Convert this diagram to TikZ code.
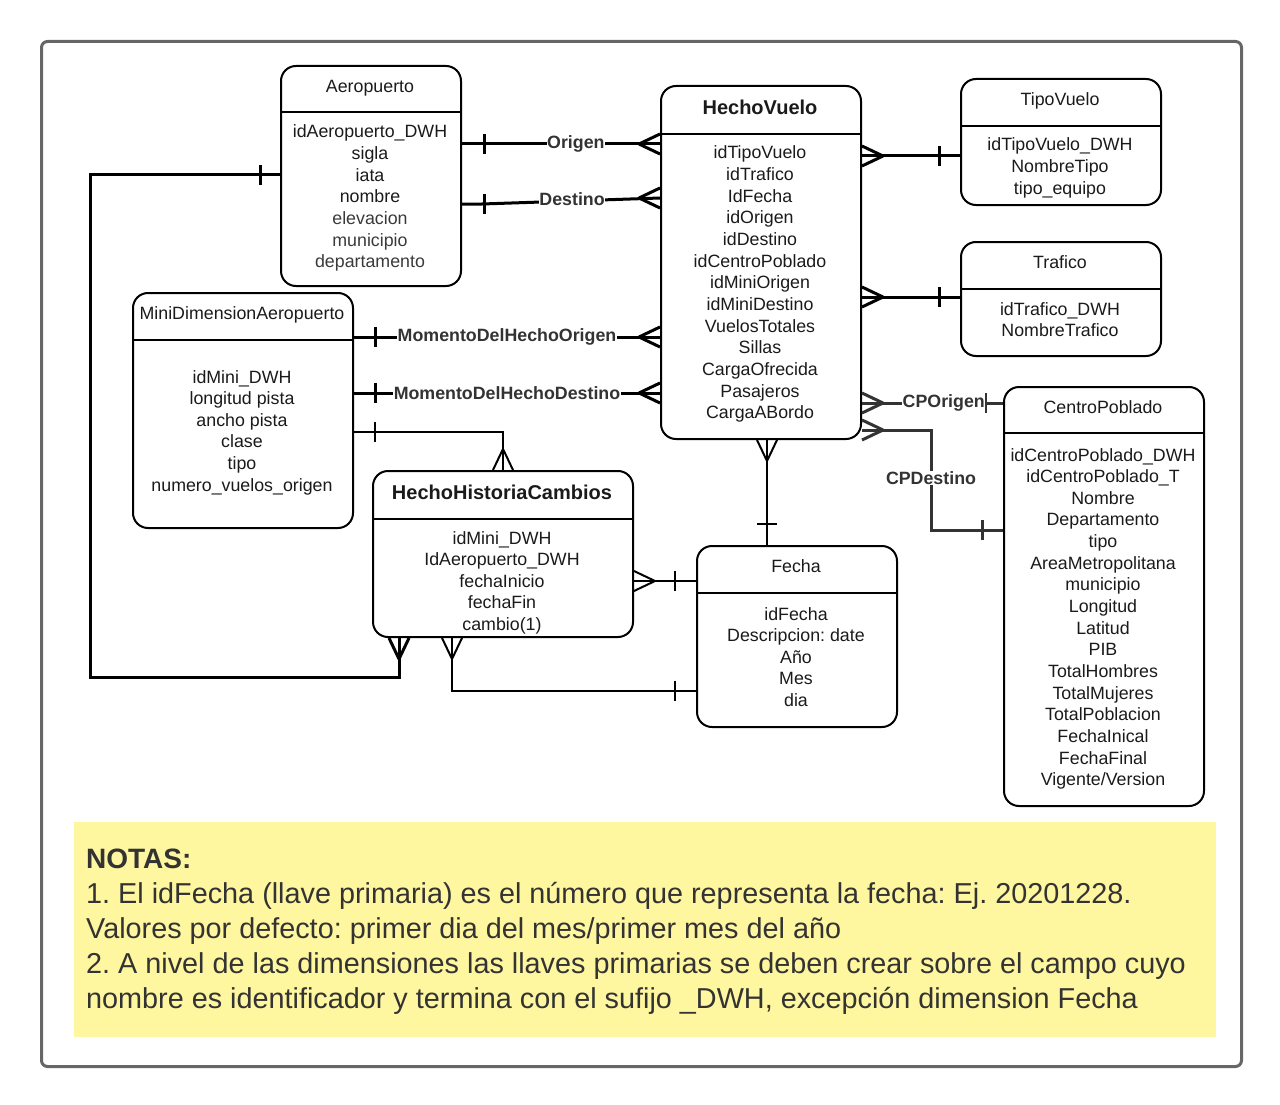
\documentclass[tikz,border=0pt]{standalone}
\usepackage{fontspec}
\setmainfont{Liberation Sans}
\usetikzlibrary{calc}
\frenchspacing
\definecolor{txt}{HTML}{1A1A1A}
\definecolor{txtg}{HTML}{3A3A3A}
\definecolor{lbl}{HTML}{333333}
\definecolor{framec}{HTML}{666666}
\definecolor{notec}{RGB}{255,246,160}
\tikzset{
  ent/.style={draw=black, line width=2pt, rounded corners=15pt, inner sep=0pt, anchor=north west},
  attr/.style={font=\fontsize{17.8}{21}\selectfont, text=txt, anchor=base, inner sep=0pt},
  ttl/.style={font=\fontsize{17.8}{21}\selectfont, text=txt, anchor=base, inner sep=0pt},
  bttl/.style={font=\bfseries\fontsize{20}{24}\selectfont, text=txt, anchor=base, inner sep=0pt},
  lab/.style={font=\bfseries\fontsize{17.8}{21}\selectfont, text=lbl, fill=white, inner sep=0.5pt},
  conn/.style={draw=black, line width=3pt},
  lw2/.style={line width=2pt},
  notetxt/.style={font=\fontsize{28.8}{35}\selectfont, text=lbl, anchor=base west, inner sep=0pt},
}
\newcommand{\entity}[8]{%
  \node[ent, minimum width=#4pt, minimum height=#5pt] (#1) at (#2,#3) {};
  \draw[line width=2pt] (#1.west |- 0,#6) -- (#1.east |- 0,#6);
}
\newcommand{\attrlist}[4]{%
  \foreach \t [count=\i] in {#4} {\node[attr] (#1-\i) at (#2,{#3+6+(\i-1)*21.65}) {\t};}
}
\newcommand{\crowft}[3][]{\draw[conn,#1,shift={(#2)},rotate=#3] (21,0) -- (0,10) (21,0) -- (0,-10);}
\newcommand{\onebar}[4][]{\draw[conn,#1,shift={(#2)},rotate=#3] (#4,-10) -- (#4,10);}
\begin{document}
\begin{tikzpicture}[x=1pt,y=-1pt]
\useasboundingbox (0,0) rectangle (1280,1105);
\node[draw=framec, line width=3pt, rounded corners=6pt, minimum width=1200pt, minimum height=1025pt, anchor=north west, inner sep=0pt] (frame) at (40,40) {};

% entities: name, x1, y1, width, height, header y
\entity{aero}{280}{65}{180}{220}{112}{}{}
\node[ttl] (aeroT) at (370,93) {Aeropuerto};
\attrlist{aero}{370}{132}{idAeropuerto\_DWH,sigla,iata,nombre,{\color{txtg}elevacion},{\color{txtg}municipio},{\color{txtg}departamento}}

\entity{hv}{660}{85}{200}{353}{134}{}{}
\node[bttl] (hvT) at (760,115) {HechoVuelo};
\attrlist{hv}{760}{153}{idTipoVuelo,idTrafico,IdFecha,idOrigen,idDestino,idCentroPoblado,idMiniOrigen,idMiniDestino,VuelosTotales,Sillas,CargaOfrecida,Pasajeros,CargaABordo}

\entity{tv}{960}{78}{200}{126}{126}{}{}
\node[ttl] (tvT) at (1060,106) {TipoVuelo};
\attrlist{tv}{1060}{145}{idTipoVuelo\_DWH,NombreTipo,tipo\_equipo}

\entity{tr}{960}{241}{200}{114}{289}{}{}
\node[ttl] (trT) at (1060,268) {Trafico};
\attrlist{tr}{1060}{309}{idTrafico\_DWH,NombreTrafico}

\entity{cp}{1003}{386}{200}{419}{433}{}{}
\node[ttl] (cpT) at (1103,413) {CentroPoblado};
\attrlist{cp}{1103}{455}{idCentroPoblado\_DWH,idCentroPoblado\_T,Nombre,Departamento,tipo,AreaMetropolitana,municipio,Longitud,Latitud,PIB,TotalHombres,TotalMujeres,TotalPoblacion,FechaInical,FechaFinal,Vigente/Version}

\entity{mini}{132}{292}{220}{235}{340}{}{}
\node[ttl] (miniT) at (242,319) {MiniDimensionAeropuerto};
\attrlist{mini}{242}{377}{idMini\_DWH,longitud pista,ancho pista,clase,tipo,numero\_vuelos\_origen}

\entity{hhc}{372}{470}{260}{166}{519}{}{}
\node[bttl] (hhcT) at (502,499) {HechoHistoriaCambios};
\attrlist{hhc}{502}{538}{idMini\_DWH,IdAeropuerto\_DWH,fechaInicio,fechaFin,cambio(1)}

\entity{fecha}{696}{545}{200}{181}{593}{}{}
\node[ttl] (fechaT) at (796,572) {Fecha};
\attrlist{fecha}{796}{614}{idFecha,Descripcion: date,Año,Mes,dia}

% connectors
\draw[conn] (aero.east |- 0,144) -- node[lab,pos=0.575]{Origen} (hv.west |- 0,144);
\onebar{aero.east |- 0,144}{0}{22}
\crowft{hv.west |- 0,144}{180}

\draw[conn] (aero.east |- 0,204) -- (482,204) -- node[lab,pos=0.506,yshift=2pt]{Destino} (hv.west |- 0,198);
\onebar{aero.east |- 0,204}{0}{22}
\crowft{hv.west |- 0,198}{180}

\draw[conn] (mini.east |- 0,337) -- node[lab,pos=0.5]{MomentoDelHechoOrigen} (hv.west |- 0,337);
\onebar{mini.east |- 0,337}{0}{21}
\crowft{hv.west |- 0,337}{180}

\draw[conn] (mini.east |- 0,393) -- node[lab,pos=0.5]{MomentoDelHechoDestino} (hv.west |- 0,393);
\onebar{mini.east |- 0,393}{0}{21}
\crowft{hv.west |- 0,393}{180}

\draw[conn,lw2] (mini.east |- 0,432) -| (hhc.north);
\onebar[lw2]{mini.east |- 0,432}{0}{21}
\crowft[lw2]{hhc.north}{90}

\draw[conn] (aero.west |- 0,175) -| (90,677) -| (hhc.south -| 399,0);
\onebar{aero.west |- 0,175}{180}{20}
\crowft{hhc.south -| 399,0}{270}

\draw[conn,lw2] (hhc.south -| 452,0) |- (fecha.west |- 0,691);
\crowft[lw2]{hhc.south -| 452,0}{270}
\onebar[lw2]{fecha.west |- 0,691}{180}{21}

\draw[conn,lw2] (hhc.east |- 0,581) -- (fecha.west |- 0,581);
\crowft[lw2]{hhc.east |- 0,581}{0}
\onebar[lw2]{fecha.west |- 0,581}{180}{21}

\draw[conn,lw2] (hv.south -| 767,0) -- (fecha.north -| 767,0);
\crowft[lw2]{hv.south -| 767,0}{270}
\onebar[lw2]{fecha.north -| 767,0}{90}{21}

\draw[conn] (hv.east |- 0,156) -- (tv.west |- 0,156);
\crowft{hv.east |- 0,156}{0}
\onebar{tv.west |- 0,156}{180}{21}

\draw[conn] (hv.east |- 0,297) -- (tr.west |- 0,297);
\crowft{hv.east |- 0,297}{0}
\onebar{tr.west |- 0,297}{180}{21}

\draw[conn,draw=lbl] (hv.east |- 0,403) -- node[lab,pos=0.58]{CPOrigen} (cp.west |- 0,403);
\crowft[draw=lbl]{hv.east |- 0,403}{0}
\onebar[draw=lbl,lw2]{cp.west |- 0,403}{180}{17}

\draw[conn,draw=lbl] (hv.east |- 0,430) -| node[lab,pos=0.74]{CPDestino} (931,530) -- (cp.west |- 0,530);
\crowft[draw=lbl]{hv.east |- 0,430}{0}
\onebar[draw=lbl]{cp.west |- 0,530}{180}{21}

% notes
\node[fill=notec, minimum width=1142pt, minimum height=215pt, anchor=north west, inner sep=0pt] (notes) at (74,822) {};
\node[notetxt, font=\bfseries\fontsize{28}{35}\selectfont] (n0) at (86,868) {NOTAS:};
\node[notetxt] (n1) at (86,903) {1. El idFecha (llave primaria) es el número que representa la fecha: Ej. 20201228.};
\node[notetxt] (n2) at (86,938) {Valores por defecto: primer dia del mes/primer mes del año};
\node[notetxt] (n3) at (86,973) {2. A nivel de las dimensiones las llaves primarias se deben crear sobre el campo cuyo};
\node[notetxt] (n4) at (86,1008) {nombre es identificador y termina con el sufijo \_DWH, excepción dimension Fecha};
\end{tikzpicture}
\end{document}
